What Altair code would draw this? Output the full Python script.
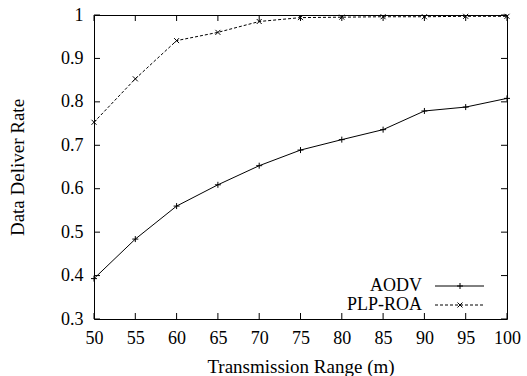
import altair as alt
import pandas as pd

ranges = [50, 55, 60, 65, 70, 75, 80, 85, 90, 95, 100]
aodv = [0.393, 0.484, 0.560, 0.609, 0.653, 0.689, 0.713, 0.736, 0.779, 0.788, 0.808]
plp_roa = [0.753, 0.853, 0.941, 0.960, 0.985, 0.994, 0.995, 0.996, 0.996, 0.997, 0.997]
series_names = ["AODV", "PLP-ROA"]
x_ticks = [50, 55, 60, 65, 70, 75, 80, 85, 90, 95, 100]
y_ticks = [0.3, 0.4, 0.5, 0.6, 0.7, 0.8, 0.9, 1.0]

W, H = 413, 304
FONT = "Liberation Serif"
FS = 18
TFS = 19

df_a = pd.DataFrame({"range": ranges, "rate": aodv})
df_p = pd.DataFrame({"range": ranges, "rate": plp_roa})
df_xt = pd.DataFrame({"t": x_ticks})
df_yt = pd.DataFrame({"t": y_ticks})

xs = alt.Scale(domain=[50, 100], nice=False, zero=False)
ys = alt.Scale(domain=[0.3, 1.0], nice=False, zero=False)

PLUS = "M-1,0L1,0M0,-1L0,1"
CROSS = "M-1,-1L1,1M-1,1L1,-1"

x_enc = alt.X("range:Q", scale=xs, axis=alt.Axis(
    values=x_ticks, title="Transmission Range (m)", grid=False, ticks=False, domain=False,
    labelFlush=False, labelOverlap=False, labelBound=False,
    labelFont=FONT, labelFontSize=FS, labelColor="black", labelPadding=10,
    titleFont=FONT, titleFontSize=TFS, titleFontWeight="normal", titleColor="black", titlePadding=10))
y_enc = alt.Y("rate:Q", scale=ys, axis=alt.Axis(
    values=y_ticks, format="~g", title="Data Deliver Rate", grid=False, ticks=False, domain=False,
    labelFlush=False, labelOverlap=False, labelBound=False,
    labelFont=FONT, labelFontSize=FS, labelColor="black", labelPadding=11,
    titleFont=FONT, titleFontSize=TFS, titleFontWeight="normal", titleColor="black", titlePadding=33))

line_a = alt.Chart(df_a).mark_line(color="black", strokeWidth=1).encode(x=x_enc, y=y_enc)
pts_a = alt.Chart(df_a).mark_point(shape=PLUS, size=36, color="black", strokeWidth=1, filled=False, opacity=1).encode(
    x=alt.X("range:Q", scale=xs), y=alt.Y("rate:Q", scale=ys))
line_p = alt.Chart(df_p).mark_line(color="black", strokeWidth=1, strokeDash=[3, 2]).encode(
    x=alt.X("range:Q", scale=xs), y=alt.Y("rate:Q", scale=ys))
pts_p = alt.Chart(df_p).mark_point(shape=CROSS, size=25, color="black", strokeWidth=1, filled=False, opacity=1).encode(
    x=alt.X("range:Q", scale=xs), y=alt.Y("rate:Q", scale=ys))

TL = 6
tick_b = alt.Chart(df_xt).mark_rule(color="black", strokeWidth=1).encode(
    x=alt.X("t:Q", scale=xs), y=alt.value(H), y2=alt.value(H - TL))
tick_t = alt.Chart(df_xt).mark_rule(color="black", strokeWidth=1).encode(
    x=alt.X("t:Q", scale=xs), y=alt.value(0), y2=alt.value(TL))
tick_l = alt.Chart(df_yt).mark_rule(color="black", strokeWidth=1).encode(
    y=alt.Y("t:Q", scale=ys), x=alt.value(0), x2=alt.value(TL))
tick_r = alt.Chart(df_yt).mark_rule(color="black", strokeWidth=1).encode(
    y=alt.Y("t:Q", scale=ys), x=alt.value(W), x2=alt.value(W - TL))

# legend
leg_layers = []
leg_y = [271, 290]
for name, ly, dash, shp, sz in [(series_names[0], leg_y[0], [1, 0], PLUS, 36),
                                (series_names[1], leg_y[1], [3, 2], CROSS, 25)]:
    d = pd.DataFrame({"name": [name]})
    leg_layers.append(alt.Chart(d).mark_text(align="right", baseline="middle", font=FONT,
                                             fontSize=FS, color="black").encode(
        x=alt.value(328), y=alt.value(ly), text="name:N"))
    leg_layers.append(alt.Chart(d).mark_rule(color="black", strokeWidth=1, strokeDash=dash).encode(
        x=alt.value(341), x2=alt.value(390), y=alt.value(ly)))
    leg_layers.append(alt.Chart(d).mark_point(shape=shp, size=sz, color="black", strokeWidth=1,
                                              filled=False, opacity=1).encode(
        x=alt.value(366), y=alt.value(ly)))

chart = alt.layer(line_a, pts_a, line_p, pts_p, tick_b, tick_t, tick_l, tick_r, *leg_layers).properties(
    width=W, height=H,
    autosize=alt.AutoSizeParams(type="none"),
    padding={"left": 94, "top": 15, "right": 20, "bottom": 57},
    background="white",
).configure_view(stroke="black", strokeWidth=1)

chart.save("out.html", embed_options={"renderer": "svg", "actions": False})
